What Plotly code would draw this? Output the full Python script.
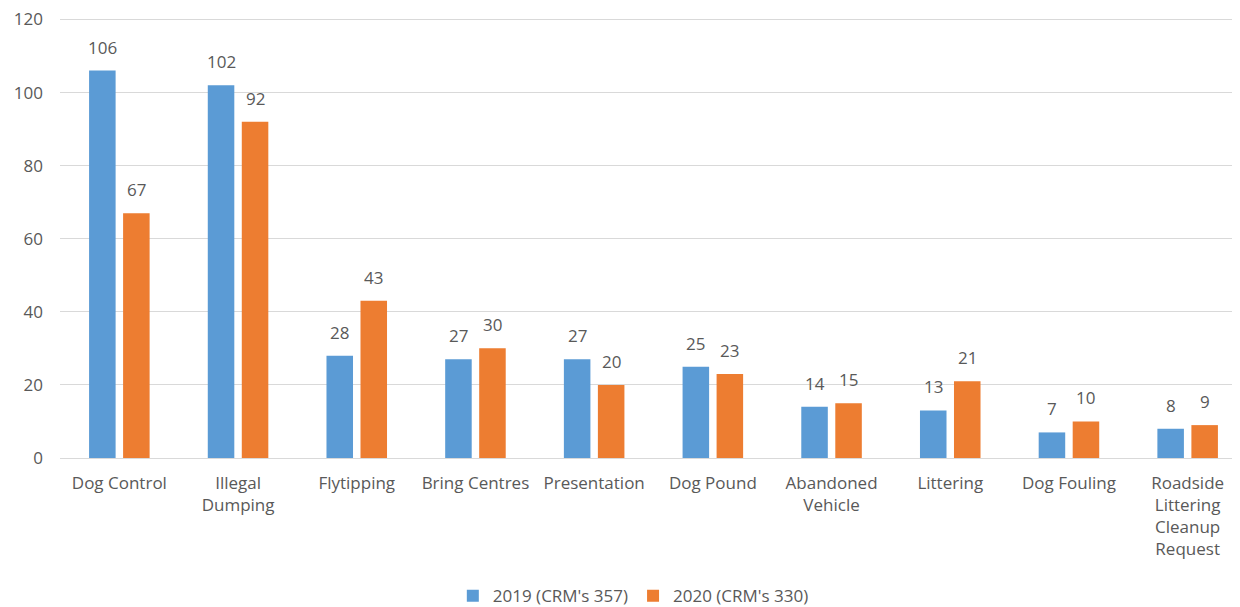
import plotly.graph_objects as go

categories = ["Dog Control", "Illegal<br>Dumping", "Flytipping", "Bring Centres", "Presentation",
              "Dog Pound", "Abandoned<br>Vehicle", "Littering", "Dog Fouling",
              "Roadside<br>Littering<br>Cleanup<br>Request"]
values_2019 = [106, 102, 28, 27, 27, 25, 14, 13, 7, 8]
values_2020 = [67, 92, 43, 30, 20, 23, 15, 21, 10, 9]
series_names = ["2019 (CRM's 357)", "2020 (CRM's 330)"]
y_ticks = [0, 20, 40, 60, 80, 100, 120]

FONT = "Open Sans"
GRAY = "#595959"
FS = 17
BARGAP = 0.427
BARGROUPGAP = 0.22

fig = go.Figure()
xs = list(range(len(categories)))
slot = (1 - BARGAP) / 2
series = [(series_names[0], values_2019, "#5B9BD5", -slot / 2),
          (series_names[1], values_2020, "#ED7D31", slot / 2)]
for name, vals, col, off in series:
    fig.add_trace(go.Bar(
        x=xs, y=vals, name=name,
        marker=dict(color=col, line=dict(width=0)),
    ))
    for xi, v in zip(xs, vals):
        fig.add_annotation(x=xi + off, y=v, text=str(v), showarrow=False,
                           xref="x", yref="y", yanchor="bottom", yshift=10,
                           font=dict(family=FONT, size=FS, color=GRAY))

fig.update_layout(
    width=1240, height=607,
    margin=dict(l=52, r=1, t=10, b=154),
    paper_bgcolor="white", plot_bgcolor="white",
    barmode="group", bargap=BARGAP, bargroupgap=BARGROUPGAP,
    font=dict(family=FONT, color=GRAY, size=FS),
    legend=dict(orientation="h", x=0.483, xanchor="center", y=-0.314, yanchor="middle",
                font=dict(family=FONT, size=FS, color=GRAY), itemwidth=30,
                traceorder="normal"),
    xaxis=dict(tickmode="array", tickvals=xs, ticktext=categories,
               range=[-0.5, 9.5], showgrid=False, ticks="", showline=False,
               automargin=False, ticklabelstandoff=13,
               tickfont=dict(family=FONT, size=FS, color=GRAY), zeroline=False),
    yaxis=dict(range=[0, 120.4], tickvals=y_ticks, showgrid=True, gridcolor="#D9D9D9",
               gridwidth=1, zeroline=True, zerolinecolor="#D9D9D9", zerolinewidth=1,
               showline=False, ticks="", ticklabelstandoff=16, automargin=False,
               ticklabeloverflow="allow",
               tickfont=dict(family=FONT, size=FS, color=GRAY)),
)

fig.write_html("out.html")
